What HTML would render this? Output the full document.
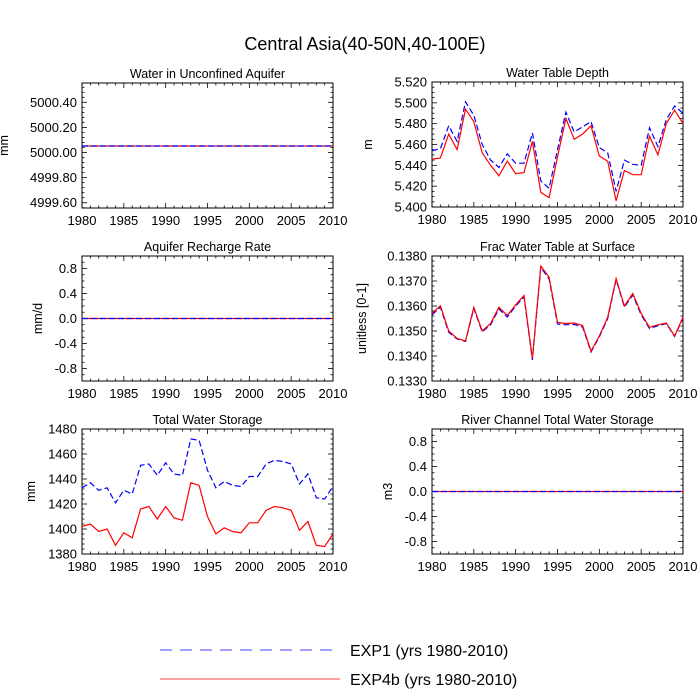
<!DOCTYPE html>
<html><head><meta charset="utf-8"><style>
body{margin:0;background:#fff;}
svg{display:block;font-family:"Liberation Sans",Arial,sans-serif;}
</style></head><body>
<svg id="c" width="700" height="700" viewBox="0 0 700 700" xmlns="http://www.w3.org/2000/svg">
<text x="365" y="50" font-size="18" text-anchor="middle">Central Asia(40-50N,40-100E)</text>
<g>
<line x1="160" y1="650" x2="340" y2="650" stroke="#00f" stroke-width="0.8" stroke-dasharray="12,8"/>
<text x="350" y="656" font-size="16">EXP1 (yrs 1980-2010)</text>
<line x1="160" y1="679" x2="340" y2="679" stroke="#f00" stroke-width="0.8"/>
<text x="350" y="685" font-size="16">EXP4b (yrs 1980-2010)</text>
</g>
</svg>
<script>
const years=[];for(let y=1980;y<=2010;y++)years.push(y);
const xTicks=[1980,1985,1990,1995,2000,2005,2010];
const aquiferExp1=Array(31).fill(5000.052);
const aquiferExp4b=Array(31).fill(5000.052);
const aquiferTicks=[4999.6,4999.8,5000.0,5000.2,5000.4];
const wtdExp1=[5.454,5.456,5.478,5.463,5.501,5.488,5.460,5.445,5.438,5.451,5.442,5.442,5.471,5.425,5.418,5.455,5.491,5.472,5.477,5.482,5.457,5.452,5.415,5.445,5.441,5.440,5.476,5.458,5.484,5.497,5.490];
const wtdExp4b=[5.446,5.447,5.470,5.455,5.494,5.482,5.452,5.440,5.430,5.444,5.432,5.433,5.463,5.414,5.409,5.448,5.485,5.465,5.470,5.478,5.449,5.444,5.406,5.435,5.431,5.431,5.468,5.450,5.480,5.493,5.480];
const wtdTicks=[5.40,5.42,5.44,5.46,5.48,5.50,5.52];
const rechargeExp1=Array(31).fill(0);
const rechargeExp4b=Array(31).fill(0);
const symTicks=[-0.8,-0.4,0,0.4,0.8];
const fracExp4b=[0.13570,0.13601,0.13500,0.13470,0.13460,0.13595,0.13500,0.13530,0.13595,0.13562,0.13605,0.13642,0.13390,0.13760,0.13715,0.13535,0.13530,0.13532,0.13522,0.13420,0.13480,0.13555,0.13710,0.13600,0.13650,0.13570,0.13515,0.13525,0.13532,0.13480,0.13555];
const fracExp1=[0.13565,0.13595,0.13495,0.13468,0.13458,0.13590,0.13497,0.13525,0.13588,0.13556,0.13600,0.13636,0.13384,0.13755,0.13708,0.13528,0.13525,0.13526,0.13516,0.13416,0.13476,0.13550,0.13705,0.13596,0.13644,0.13564,0.13510,0.13521,0.13530,0.13478,0.13552];
const fracTicks=[0.133,0.134,0.135,0.136,0.137,0.138];
const twsExp1=[1433,1437,1431,1433,1421,1431,1428,1451,1452,1443,1453,1444,1443,1472,1471,1447,1433,1438,1435,1434,1442,1442,1452,1455,1454,1452,1436,1444,1425,1424,1434];
const twsExp4b=[1402,1404,1398,1400,1387,1397,1393,1416,1418,1408,1418,1409,1407,1437,1435,1410,1396,1401,1398,1397,1405,1405,1415,1418,1417,1415,1399,1406,1387,1386,1396];
const twsTicks=[1380,1400,1420,1440,1460,1480];
const riverExp1=Array(31).fill(0);
const riverExp4b=Array(31).fill(0);

const NS="http://www.w3.org/2000/svg";
const svg=document.getElementById('c');
function el(t,a,p){const e=document.createElementNS(NS,t);for(const k in a)e.setAttribute(k,a[k]);(p||svg).appendChild(e);return e;}
function panel(o){
 const g=el('g',{});
 
 
 const L=o.x,R=o.x+251,T=o.y,B=o.y+125;
 const sx=v=>L+(v-1980)/30*(R-L);
 const sy=v=>B-(v-o.min)/(o.max-o.min)*(B-T);
 const r=el('rect',{x:L,y:T,width:R-L,height:B-T,fill:'none',stroke:'#000','stroke-width':1},g);
 
 
 const tt=el('text',{x:(L+R)/2,y:T-5,'font-size':12.5,'text-anchor':'middle'},g);tt.textContent=o.title;
 
 
 for(let yr=1980;yr<=2010;yr++){const X=sx(yr);const len=yr%5==0?5:2.5;
  el('line',{x1:X,y1:B,x2:X,y2:B-len,stroke:'#000','stroke-width':0.8},g);
  el('line',{x1:X,y1:T,x2:X,y2:T+len,stroke:'#000','stroke-width':0.8},g);}
 xTicks.forEach(v=>{const t=el('text',{x:sx(v),y:B+17,'font-size':13,'text-anchor':'middle'},g);t.textContent=v;
  
  });
 const step=o.ticks[1]-o.ticks[0],ms=step/o.minor;
 for(let v=o.ticks[0]-step;v<=o.max+1e-9;v+=ms){if(v<o.min-1e-9)continue;const Y=sy(v);
  const maj=Math.abs(((v-o.ticks[0])/step)-Math.round((v-o.ticks[0])/step))<1e-6;const len=maj?5:2.5;
  el('line',{x1:L,y1:Y,x2:L+len,y2:Y,stroke:'#000','stroke-width':0.8},g);
  el('line',{x1:R,y1:Y,x2:R-len,y2:Y,stroke:'#000','stroke-width':0.8},g);}
 o.ticks.forEach(v=>{const t=el('text',{x:L-5,y:sy(v)+4.5,'font-size':13,'text-anchor':'end'},g);t.textContent=v.toFixed(o.dec);
  
  });
 const yl=el('text',{x:0,y:0,'font-size':12.5,'text-anchor':'middle',transform:`translate(${o.x-o.ylx},${(T+B)/2}) rotate(-90)`},g);yl.textContent=o.unit;
 
 
 const pts=a=>a.map((v,i)=>sx(years[i]).toFixed(1)+','+sy(v).toFixed(1)).join(' ');
 const l1=el('polyline',{points:pts(o.s1),fill:'none',stroke:'#00f','stroke-width':1.2,'stroke-dasharray':'6,3'},g);
 
 
 const l2=el('polyline',{points:pts(o.s2),fill:'none',stroke:'#f00','stroke-width':1.2},g);
 
 
 if(o.front){g.appendChild(l1);}
}
panel({name:'panel-unconfined-aquifer',x:82,y:83,min:4999.558,max:5000.554,ticks:aquiferTicks,minor:5,dec:2,title:'Water in Unconfined Aquifer',unit:'mm',ylx:74,s1:aquiferExp1,s2:aquiferExp4b,front:true});
panel({name:'panel-water-table-depth',x:432,y:82,min:5.40,max:5.52,ticks:wtdTicks,minor:4,dec:3,title:'Water Table Depth',unit:'m',ylx:60,s1:wtdExp1,s2:wtdExp4b});
panel({name:'panel-aquifer-recharge',x:82,y:256,min:-1,max:1,ticks:symTicks,minor:4,dec:1,title:'Aquifer Recharge Rate',unit:'mm/d',ylx:40,s1:rechargeExp1,s2:rechargeExp4b,front:true});
panel({name:'panel-frac-water-table',x:432,y:256,min:0.133,max:0.138,ticks:fracTicks,minor:5,dec:4,title:'Frac Water Table at Surface',unit:'unitless [0-1]',ylx:66,s1:fracExp1,s2:fracExp4b});
panel({name:'panel-total-water-storage',x:82,y:429,min:1380,max:1480,ticks:twsTicks,minor:5,dec:0,title:'Total Water Storage',unit:'mm',ylx:47,s1:twsExp1,s2:twsExp4b});
panel({name:'panel-river-channel-storage',x:432,y:429,min:-1,max:1,ticks:symTicks,minor:4,dec:1,title:'River Channel Total Water Storage',unit:'m3',ylx:40,s1:riverExp1,s2:riverExp4b,front:true});
</script>
</body></html>
